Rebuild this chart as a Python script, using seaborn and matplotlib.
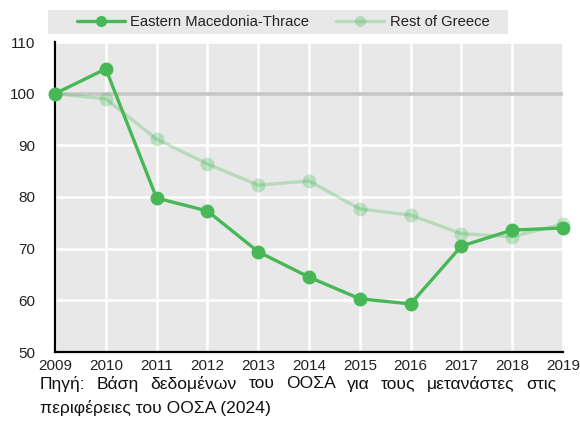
import matplotlib
matplotlib.use("Agg")
import matplotlib.pyplot as plt
import seaborn as sns
import pandas as pd
from matplotlib.lines import Line2D
from matplotlib.patches import Rectangle

years = [2009, 2010, 2011, 2012, 2013, 2014, 2015, 2016, 2017, 2018, 2019]
emt = [100, 104.8, 79.8, 77.3, 69.4, 64.5, 60.3, 59.3, 70.5, 73.6, 74.0]
rest = [100, 99.0, 91.2, 86.4, 82.3, 83.1, 77.7, 76.5, 72.9, 72.3, 74.8]
series_names = ["Eastern Macedonia-Thrace", "Rest of Greece"]
yticks = [50, 60, 70, 80, 90, 100, 110]
caption1 = "Πηγή: Βάση δεδομένων του ΟΟΣΑ για τους μετανάστες στις"
caption2 = "περιφέρειες του ΟΟΣΑ (2024)"

df = pd.DataFrame({
    "year": years * 2,
    "value": emt + rest,
    "series": [series_names[0]] * len(years) + [series_names[1]] * len(years),
})

sns.set_theme(style="white")
plt.rcParams['font.family'] = ['Liberation Sans', 'DejaVu Sans']

green = "#48b857"
fig = plt.figure(figsize=(5.8, 4.21), dpi=100)
ax = fig.add_axes([55/580, 1-352/421, (563-55)/580, (352-42)/421])
ax.set_facecolor("#e8e8e8")

for name, alpha in zip(series_names, [1.0, 0.3]):
    sub = df[df["series"] == name]
    sns.lineplot(data=sub, x="year", y="value", ax=ax, color=green, alpha=alpha,
                 marker="o", markersize=10, markeredgewidth=0, linewidth=2.4,
                 legend=False, clip_on=False, zorder=3)

ax.axhline(100, color="#c6c6c6", lw=2.6, zorder=1.5)

ax.set_xlim(2009, 2019)
ax.set_ylim(50, 110)
ax.set_xticks(years)
ax.set_xticklabels([str(y) for y in years])
ax.set_yticks(yticks)
ax.grid(True, color="white", lw=1.8, zorder=1)
ax.set_axisbelow(True)
ax.set_xlabel("")
ax.set_ylabel("")
for s in ["top", "right"]:
    ax.spines[s].set_visible(False)
for s in ["left", "bottom"]:
    ax.spines[s].set_color("black")
    ax.spines[s].set_linewidth(1.6)
ax.tick_params(axis="both", direction="in", length=5, width=1.6, color="black",
               labelsize=11, labelcolor="#222222")
ax.tick_params(axis="y", pad=14)
ax.tick_params(axis="x", pad=5)

# legend box
fig.patches.append(Rectangle((48/580, 1-34/421), (508-48)/580, 24/421,
                             transform=fig.transFigure, facecolor="#e8e8e8",
                             edgecolor="none", zorder=0))
handles = [Line2D([], [], color=green, marker="o", markersize=8, lw=2.4, markeredgewidth=0),
           Line2D([], [], color=green, alpha=0.3, marker="o", markersize=8, lw=2.4, markeredgewidth=0)]
fig.legend(handles, series_names, loc="center", bbox_to_anchor=(283/580, 1-22/421),
           ncol=2, frameon=False, fontsize=10.6, handlelength=3.3, columnspacing=1.8,
           handletextpad=0.35, labelcolor="#222222")

# caption, justified first line
fig.canvas.draw()
renderer = fig.canvas.get_renderer()
words = caption1.split(" ")
x0, x1 = 40/580, 556/580
ycap = 1 - 384/421
texts = [fig.text(0, ycap, w, fontsize=12.6, color="#111111", va="center") for w in words]
widths = [t.get_window_extent(renderer).width / fig.bbox.width for t in texts]
gap = (x1 - x0 - sum(widths)) / (len(words) - 1)
x = x0
for t, w in zip(texts, widths):
    t.set_x(x)
    x += w + gap
fig.text(x0, 1 - 408/421, caption2, fontsize=12.6, color="#111111", va="center")

fig.savefig("out.png", dpi=100)
